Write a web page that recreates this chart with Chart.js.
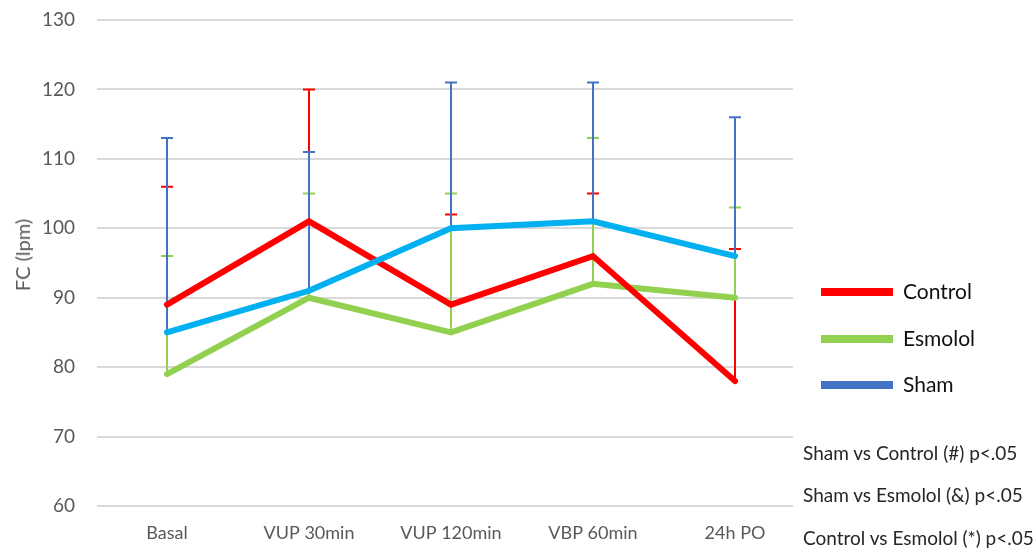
<!DOCTYPE html>
<html>
<head>
<meta charset="utf-8">
<script src="https://cdn.jsdelivr.net/npm/chart.js@4/dist/chart.umd.min.js"></script>
<style>
  html, body { margin: 0; padding: 0; background: #ffffff; }
  #wrap { position: relative; width: 1035px; height: 554px; font-family: Lato, "Liberation Sans", sans-serif; }
  #chart { position: absolute; left: 0; top: 0; }
  .ytitle { position: absolute; left: 22px; top: 255px; transform: translate(-50%, -50%) rotate(-90deg);
            font-size: 20px; color: #595959; white-space: nowrap; line-height: 24px; }
  .key { position: absolute; left: 821px; width: 72px; height: 8px; }
  .keytext { position: absolute; left: 903px; font-size: 21px; color: #111; line-height: 24px; }
  .note { position: absolute; left: 803px; font-size: 19px; color: #262626; line-height: 22px; white-space: nowrap; }
</style>
</head>
<body>
<div id="wrap">
  <canvas id="chart" width="1035" height="554"></canvas>
  <div class="ytitle">FC (lpm)</div>
  <div class="key" style="top:288px; background:#ff0000;"></div>
  <div class="keytext" style="top:279px;">Control</div>
  <div class="key" style="top:335px; background:#92d050;"></div>
  <div class="keytext" style="top:326px;">Esmolol</div>
  <div class="key" style="top:381px; background:#4472c4;"></div>
  <div class="keytext" style="top:372px;">Sham</div>
  <div class="note" style="top:442px;">Sham vs Control (#) p&lt;.05</div>
  <div class="note" style="top:484px;">Sham vs Esmolol (&amp;) p&lt;.05</div>
  <div class="note" style="top:527px;">Control vs Esmolol (*) p&lt;.05</div>
</div>
<script>
// Heart rate (lpm) per time point, mean and upper SD
const categories = ['Basal', 'VUP 30min', 'VUP 120min', 'VBP 60min', '24h PO'];
const controlMean = [89, 101, 89, 96, 78];
const controlSD   = [17, 19, 13, 9, 19];
const esmololMean = [79, 90, 85, 92, 90];
const esmololSD   = [17, 15, 20, 21, 13];
const shamMean    = [85, 91, 100, 101, 96];
const shamSD      = [28, 20, 21, 20, 20];
const yTicks      = [60, 70, 80, 90, 100, 110, 120, 130];

const series = [
  { label: 'Control', mean: controlMean, sd: controlSD, line: '#ff0000', bar: '#ff0000', order: 1 },
  { label: 'Esmolol', mean: esmololMean, sd: esmololSD, line: '#92d050', bar: '#92d050', order: 2 },
  { label: 'Sham',    mean: shamMean,    sd: shamSD,    line: '#00b0f0', bar: '#4472c4', order: 0 }
];

// Horizontal grid lines, drawn from the y scale ticks
const gridPlugin = {
  id: 'hgrid',
  beforeDatasetsDraw(chart) {
    const { ctx, scales: { y }, chartArea } = chart;
    ctx.save();
    ctx.strokeStyle = '#d9d9d9';
    ctx.lineWidth = 2;
    yTicks.forEach(v => {
      const py = Math.round(y.getPixelForValue(v));
      ctx.beginPath();
      ctx.moveTo(chartArea.left + 1, py);
      ctx.lineTo(chartArea.right - 13, py);
      ctx.stroke();
    });
    ctx.restore();
  }
};

// Upper error bars (mean + SD) behind the lines
const errorBarPlugin = {
  id: 'errorBars',
  beforeDatasetsDraw(chart) {
    const { ctx, scales: { y } } = chart;
    ctx.save();
    ctx.lineWidth = 2;
    chart.data.datasets.forEach((ds, di) => {
      const meta = chart.getDatasetMeta(di);
      ctx.strokeStyle = ds.errorColor;
      meta.data.forEach((pt, i) => {
        const x = pt.x;
        const y0 = y.getPixelForValue(ds.data[i]);
        const y1 = y.getPixelForValue(ds.data[i] + ds.errorUp[i]);
        ctx.beginPath();
        ctx.moveTo(x, y0);
        ctx.lineTo(x, y1);
        ctx.moveTo(x - 6, y1);
        ctx.lineTo(x + 6, y1);
        ctx.stroke();
      });
    });
    ctx.restore();
  }
};

new Chart(document.getElementById('chart'), {
  type: 'line',
  data: {
    labels: categories,
    datasets: series.map(s => ({
      label: s.label,
      data: s.mean,
      errorUp: s.sd,
      errorColor: s.bar,
      borderColor: s.line,
      backgroundColor: s.line,
      borderWidth: 6,
      borderCapStyle: 'round',
      borderJoinStyle: 'miter',
      pointRadius: 0,
      tension: 0,
      fill: false,
      order: s.order
    }))
  },
  options: {
    responsive: false,
    animation: false,
    devicePixelRatio: 1,
    layout: { padding: { left: 0, right: 229, top: 20, bottom: 0 } },
    plugins: { legend: { display: false }, tooltip: { enabled: false } },
    scales: {
      x: {
        offset: true,
        grid: { display: false, drawTicks: false },
        border: { display: false },
        ticks: { color: '#595959', font: { family: 'Lato', size: 18 }, padding: 16, maxRotation: 0 },
        afterFit(s) { s.height = 48; }
      },
      y: {
        min: 60,
        max: 130,
        grid: { display: false, drawTicks: false },
        border: { display: false },
        ticks: { stepSize: 10, color: '#595959', font: { family: 'Lato', size: 19 }, padding: 21 },
        afterFit(s) { s.width = 96; s.paddingTop = 0; s.paddingBottom = 0; }
      }
    }
  },
  plugins: [gridPlugin, errorBarPlugin]
});
</script>
</body>
</html>
